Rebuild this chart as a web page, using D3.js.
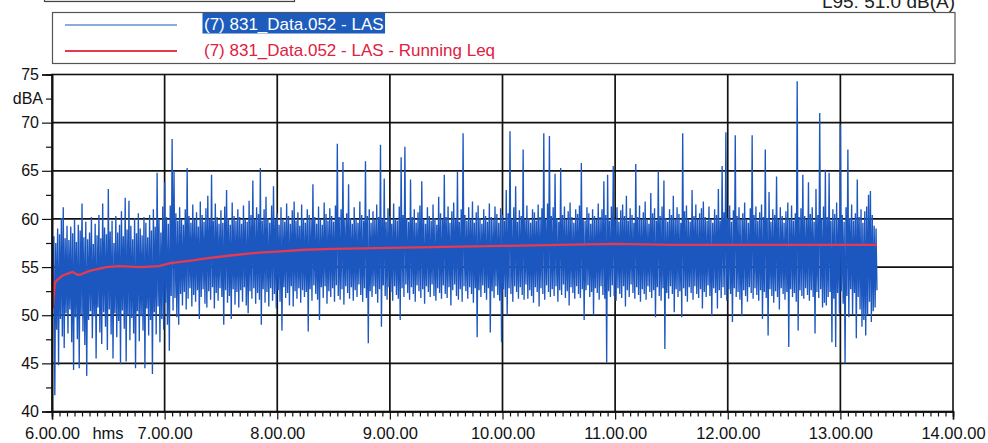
<!DOCTYPE html>
<html>
<head>
<meta charset="utf-8">
<script src="https://cdn.jsdelivr.net/npm/d3@7"></script>
<style>
  html, body { margin: 0; padding: 0; background: #fff; }
  svg { display: block; font-family: "Liberation Sans", Arial, Helvetica, sans-serif; }
</style>
</head>
<body>
<svg id="chart" width="988" height="443"></svg>
<script>
// LAS time history, per-minute envelope starting at 6.00.00 (dB(A)).
// lasMax[i] = highest level in minute i, lasMin[i] = lowest level in minute i.
const lasMax = [
  59.6,58.2,57.5,59.0,58.4,60.1,61.2,58.0,59.3,57.8,
  59.2,58.5,60.0,57.6,59.4,58.8,61.6,58.1,59.7,57.9,
  58.6,60.2,57.4,59.5,58.3,60.4,58.0,61.6,59.1,58.4,
  63.1,58.7,59.8,57.5,60.3,58.6,59.4,60.8,58.2,62.2,
  58.9,61.9,59.3,57.9,60.1,58.5,60.6,59.0,58.3,60.2,
  59.6,58.1,60.4,58.8,61.0,59.2,64.8,60.0,58.6,61.3,
  63.8,60.2,59.5,61.4,68.3,65.0,60.6,59.8,61.2,60.0,
  59.4,61.0,65.3,60.3,59.6,61.5,59.9,60.7,59.2,61.8,
  60.4,59.7,61.1,62.4,60.0,64.6,59.8,61.6,60.2,59.5,
  60.9,59.6,61.3,63.0,60.1,59.4,61.7,60.3,59.8,61.0,
  60.2,59.5,61.4,60.0,59.7,61.9,60.4,64.0,59.9,61.2,
  60.5,65.3,59.8,61.0,62.3,60.1,59.6,61.4,63.4,60.0,
  60.6,59.4,61.2,60.0,59.7,61.6,60.3,59.5,60.9,61.8,
  59.8,60.7,59.3,61.5,60.1,59.6,61.0,60.4,59.9,63.6,
  60.2,59.5,61.3,60.0,59.4,61.7,60.5,59.8,61.1,60.3,
  59.7,61.4,67.8,60.2,61.0,65.9,59.9,60.6,63.6,60.1,
  59.5,61.2,60.0,59.6,61.8,60.4,59.8,66.0,60.3,61.0,
  59.6,60.8,59.9,61.5,60.2,67.7,60.0,64.2,59.7,61.1,
  60.3,59.5,61.6,60.0,59.8,61.3,66.4,60.4,67.5,60.1,
  59.7,64.1,60.2,61.0,59.6,60.7,61.4,63.9,60.0,59.5,
  61.2,60.3,59.8,61.5,60.1,59.4,62.3,60.6,59.9,64.6,
  60.2,61.3,59.6,60.8,61.7,60.0,64.9,59.7,61.0,68.9,
  60.4,59.8,61.2,60.0,61.8,59.6,60.7,61.4,60.1,59.5,
  61.0,60.3,59.7,61.6,60.2,59.9,61.3,60.5,59.6,61.1,
  60.4,59.8,63.0,60.6,69.1,60.0,61.2,63.4,59.7,60.9,
  60.3,67.2,59.9,61.4,60.1,59.6,61.0,60.7,59.8,61.5,
  60.2,61.1,68.9,60.0,61.6,68.6,60.3,61.2,64.7,60.1,
  59.7,65.3,60.4,61.3,59.9,60.8,61.7,60.2,59.6,61.0,
  60.5,61.4,65.8,60.0,59.8,61.2,60.6,59.5,61.0,60.3,
  59.9,61.6,60.2,61.0,63.9,60.4,64.6,59.8,61.3,65.5,
  60.0,61.2,59.7,60.9,61.5,60.3,62.4,59.8,61.1,60.4,
  59.6,65.7,60.2,61.4,59.9,60.7,61.8,60.0,59.5,62.7,
  60.6,61.1,59.8,65.0,60.3,61.3,64.0,60.1,59.7,61.0,
  60.4,62.4,59.9,61.2,60.5,59.6,68.9,60.8,61.4,60.0,
  59.7,63.0,60.3,61.5,59.9,60.6,61.1,61.8,60.2,59.8,
  61.3,60.0,59.6,61.0,60.4,63.1,59.8,65.5,60.7,69.0,
  60.1,61.4,59.7,60.9,68.7,60.3,61.2,59.9,60.6,61.7,
  60.0,59.6,61.1,68.7,60.4,61.3,59.8,60.7,61.5,60.2,
  67.2,60.1,62.8,59.7,61.0,60.4,64.4,59.9,61.2,60.3,
  59.6,60.8,61.7,60.0,61.4,59.8,60.6,74.3,60.2,61.1,
  64.6,60.3,59.9,63.8,60.5,61.2,59.7,63.1,60.4,71.0,
  60.0,61.3,65.1,60.2,64.8,59.8,61.0,60.5,61.7,59.9,
  69.8,60.4,59.7,61.2,67.2,60.1,61.5,59.8,60.6,64.1,
  60.2,61.0,59.6,60.8,61.3,62.5,62.9,60.4,59.3,59.0
];
const lasMin = [
  52.0,41.7,48.5,44.8,49.6,47.8,46.6,50.2,48.1,50.6,
  47.2,44.3,49.8,47.5,44.5,50.1,48.3,46.9,43.7,49.5,
  50.4,47.6,49.9,45.5,50.8,48.2,47.0,50.3,48.8,46.4,
  50.6,48.0,45.5,50.2,47.7,49.4,44.9,50.5,48.6,45.2,
  50.0,47.4,49.7,48.1,44.5,50.4,47.3,49.9,48.4,44.5,
  50.7,47.9,49.5,43.9,50.3,48.0,50.9,47.2,49.6,48.5,
  51.3,49.0,46.3,52.0,50.5,51.8,49.8,49.0,52.2,51.0,
  52.4,50.6,51.7,52.8,50.9,52.1,51.4,52.6,49.6,51.9,
  52.7,51.2,50.8,52.5,51.6,52.9,50.7,52.3,51.5,52.8,
  51.9,49.0,52.6,51.3,52.0,49.6,52.7,51.1,52.4,50.8,
  52.6,51.4,52.9,51.0,50.2,52.5,51.7,52.8,51.2,52.3,
  51.6,49.0,52.7,51.3,52.4,50.9,52.8,51.5,52.2,50.7,
  52.6,51.4,48.4,52.9,51.8,52.3,51.0,53.0,50.9,52.5,
  51.7,52.8,51.3,52.6,51.9,52.4,48.3,52.7,51.5,53.1,
  52.2,51.6,49.5,52.9,51.8,53.0,51.2,52.5,51.9,52.8,
  51.4,53.1,52.0,51.6,52.7,51.1,53.0,52.3,51.7,52.9,
  51.5,52.6,51.9,53.2,52.1,51.4,52.8,51.8,47.1,52.5,
  51.9,53.0,52.2,51.3,52.7,48.8,53.1,52.0,51.6,52.9,
  52.4,51.5,53.0,52.1,51.7,49.5,52.8,51.9,53.2,52.3,
  51.6,52.9,52.2,51.4,53.1,52.5,51.8,52.7,51.2,53.0,
  52.4,51.9,53.2,52.0,51.5,52.8,52.3,51.7,53.1,52.2,
  51.8,52.9,51.0,52.6,53.2,52.0,51.6,52.7,51.4,53.0,
  52.5,51.7,52.9,52.2,51.3,52.8,47.7,52.6,51.9,53.1,
  52.3,51.6,52.8,48.2,52.5,51.8,53.0,52.1,51.5,47.2,
  52.7,51.9,50.0,52.8,52.2,51.4,53.0,52.4,51.7,52.9,
  52.1,51.6,53.2,51.7,52.6,52.0,51.3,52.9,52.4,50.9,
  52.8,52.2,51.6,53.1,52.4,51.9,52.7,52.0,53.0,51.4,
  52.6,52.1,53.2,51.8,52.5,51.0,52.9,52.3,51.7,53.0,
  52.2,51.8,52.7,49.5,52.6,53.1,51.9,52.4,50.0,52.8,
  52.3,51.6,53.0,52.1,51.7,45.1,52.5,51.9,53.1,52.0,
  51.5,52.8,52.2,51.8,53.0,50.9,52.6,51.9,53.2,52.3,
  51.7,52.9,52.1,51.4,52.7,52.2,51.6,53.0,52.4,51.8,
  52.6,49.8,52.9,52.0,51.5,52.8,46.5,52.3,51.7,53.0,
  52.2,50.3,52.7,51.9,52.5,49.8,52.8,52.0,51.4,52.9,
  52.3,51.6,53.0,52.2,51.8,52.7,50.7,52.4,51.9,53.1,
  52.0,49.9,52.8,52.3,50.7,52.6,51.8,52.9,52.1,51.5,
  52.7,52.2,49.3,52.8,51.9,52.4,51.6,49.9,52.6,52.0,
  51.4,52.9,52.3,51.7,52.8,52.1,51.5,52.6,49.6,52.4,
  51.8,47.9,52.7,52.0,51.3,52.5,51.9,50.6,52.8,52.2,
  51.6,52.4,46.7,52.7,51.9,52.3,51.4,48.4,52.6,52.0,
  51.7,52.8,52.1,51.5,52.6,51.9,48.1,52.4,51.8,52.7,
  50.8,51.3,51.0,51.9,52.4,47.2,51.7,46.7,52.3,50.2,
  52.5,51.2,45.0,52.0,49.8,52.7,50.1,52.3,47.6,51.9,
  50.6,48.8,49.5,47.9,50.0,51.4,49.3,50.4,50.8,52.6
];

// Running Leq of the same record: elapsed minutes and level (dB(A)).
const leqMinutes = [0, 0.5, 1.5, 3, 5.5, 8, 11, 13.5, 15, 20, 29, 36, 47, 57, 63, 75, 82, 95, 110, 120, 135, 150, 180, 210, 240, 270, 300, 330, 360, 400, 439.5];
const leqValues  = [55.3, 50.8, 53.4, 53.7, 54.1, 54.3, 54.5, 54.2, 54.2, 54.6, 55.0, 55.1, 55.0, 55.1, 55.4, 55.7, 55.9, 56.2, 56.5, 56.6, 56.8, 56.9, 57.0, 57.1, 57.2, 57.3, 57.4, 57.3, 57.3, 57.3, 57.3];

// Axis ticks and labels
const yMajorTicks = [40, 45, 50, 55, 60, 65, 70, 75];
const yMinorTicks = [42.5, 47.5, 52.5, 57.5, 62.5, 67.5, 72.5];
const yUnitLabel = "dBA";
const hourTicks = [0, 60, 120, 180, 240, 300, 360, 420, 480];
const hourLabels = ["6.00.00", "7.00.00", "8.00.00", "9.00.00", "10.00.00", "11.00.00", "12.00.00", "13.00.00", "14.00.00"];
const xUnitLabel = "hms";
const seriesNames = ["(7) 831_Data.052 - LAS", "(7) 831_Data.052 - LAS - Running Leq"];
const summaryText = "L95: 51.0 dB(A)";

const svg = d3.select("#chart");
const plot = { left: 52, right: 953, top: 74.5, bottom: 411.5 };

const x = d3.scaleLinear().domain([0, 480]).range([plot.left, plot.right]);
const y = d3.scaleLinear().domain([40, 75]).range([plot.bottom, plot.top]);

const lasColor = "#1c57c0";
const leqColor = "#e63a50";

// Header strip: edge of the panel above and the L95 summary
svg.append("rect")
  .attr("x", 44.5).attr("y", -30).attr("width", 250).attr("height", 31.5)
  .attr("fill", "#f2f2f2").attr("stroke", "#444").attr("stroke-width", 1.2);
svg.append("text")
  .attr("x", 955).attr("y", 7.5).attr("text-anchor", "end")
  .attr("font-size", 19).attr("fill", "#222")
  .text(summaryText);

// Legend
const legend = svg.append("g");
legend.append("rect")
  .attr("x", 52.5).attr("y", 12.5).attr("width", 902.5).attr("height", 51)
  .attr("fill", "#fff").attr("stroke", "#555").attr("stroke-width", 1.2);
legend.append("line")
  .attr("x1", 65).attr("x2", 177).attr("y1", 25).attr("y2", 25)
  .attr("stroke", lasColor).attr("stroke-width", 1.2);
legend.append("line")
  .attr("x1", 65).attr("x2", 177).attr("y1", 51).attr("y2", 51)
  .attr("stroke", leqColor).attr("stroke-width", 2.2);
const label0 = legend.append("text")
  .attr("x", 204).attr("y", 29.5).attr("font-size", 17).attr("fill", "#fff")
  .text(seriesNames[0]);
const bb = label0.node().getBBox();
legend.insert("rect", "text")
  .attr("x", bb.x - 1.5).attr("y", 13).attr("width", bb.width + 3).attr("height", 20.5)
  .attr("fill", "#1d5cbc");
legend.append("text")
  .attr("x", 204).attr("y", 55.5).attr("font-size", 17).attr("fill", "#e0203e")
  .text(seriesNames[1]);

// Grid
const grid = svg.append("g").attr("stroke", "#111").attr("stroke-width", 1.7);
grid.selectAll("line.h").data(yMajorTicks.slice(1, -1)).join("line")
  .attr("x1", plot.left).attr("x2", plot.right)
  .attr("y1", d => y(d)).attr("y2", d => y(d));
grid.selectAll("line.v").data(hourTicks.slice(1, -1)).join("line")
  .attr("y1", plot.top).attr("y2", plot.bottom)
  .attr("x1", d => x(d)).attr("x2", d => x(d));

// Data
svg.append("clipPath").attr("id", "plotClip").append("rect")
  .attr("x", plot.left).attr("y", plot.top)
  .attr("width", plot.right - plot.left).attr("height", plot.bottom - plot.top);
const data = svg.append("g").attr("clip-path", "url(#plotClip)");

const lasPoints = [];
lasMax.forEach((v, i) => {
  lasPoints.push([i, v]);
  lasPoints.push([i + 0.5, lasMin[i]]);
});
const line = d3.line().x(d => x(d[0])).y(d => y(d[1]));
data.append("path").datum(lasPoints)
  .attr("d", line).attr("fill", "none")
  .attr("stroke", lasColor).attr("stroke-width", 1.35).attr("stroke-linejoin", "miter");

const leqPoints = leqMinutes.map((m, i) => [m, leqValues[i]]);
data.append("path").datum(leqPoints)
  .attr("d", line).attr("fill", "none")
  .attr("stroke", leqColor).attr("stroke-width", 2.3).attr("stroke-linejoin", "round");

// Frame
svg.append("rect")
  .attr("x", plot.left).attr("y", plot.top)
  .attr("width", plot.right - plot.left).attr("height", plot.bottom - plot.top)
  .attr("fill", "none").attr("stroke", "#111").attr("stroke-width", 1.6);

// Y axis
const yAxisG = svg.append("g").attr("transform", `translate(${plot.left},0)`)
  .call(d3.axisLeft(y).tickValues(yMajorTicks).tickSize(10).tickPadding(3).tickFormat(d3.format("d")));
const yMinorG = svg.append("g").attr("transform", `translate(${plot.left},0)`)
  .call(d3.axisLeft(y).tickValues(yMinorTicks).tickSize(6)
    .tickFormat(d => d === 72.5 ? yUnitLabel : ""));

// X axis
const xAxisG = svg.append("g").attr("transform", `translate(0,${plot.bottom})`)
  .call(d3.axisBottom(x).tickValues(hourTicks).tickSize(8).tickPadding(8)
    .tickFormat((d, i) => hourLabels[i]));
const xMinorG = svg.append("g").attr("transform", `translate(0,${plot.bottom})`)
  .call(d3.axisBottom(x).tickValues(d3.range(0, 481, 4).filter(m => m % 60 !== 0)).tickSize(5).tickFormat(""));

[yAxisG, yMinorG, xAxisG, xMinorG].forEach(g => {
  g.select(".domain").attr("stroke", "#111").attr("stroke-width", 1.6);
  g.selectAll(".tick line").attr("stroke", "#111").attr("stroke-width", 1.2);
  g.selectAll(".tick text").attr("fill", "#111").attr("font-family", "\"Liberation Sans\", Arial, sans-serif");
});
yAxisG.selectAll(".tick text").attr("font-size", 16);
yMinorG.selectAll(".tick text").attr("font-size", 16);
xAxisG.selectAll(".tick text").attr("font-size", 16.5);

svg.append("text")
  .attr("x", 108).attr("y", plot.bottom + 27.5).attr("text-anchor", "middle")
  .attr("font-size", 16.5).attr("fill", "#111")
  .text(xUnitLabel);
</script>
</body>
</html>
